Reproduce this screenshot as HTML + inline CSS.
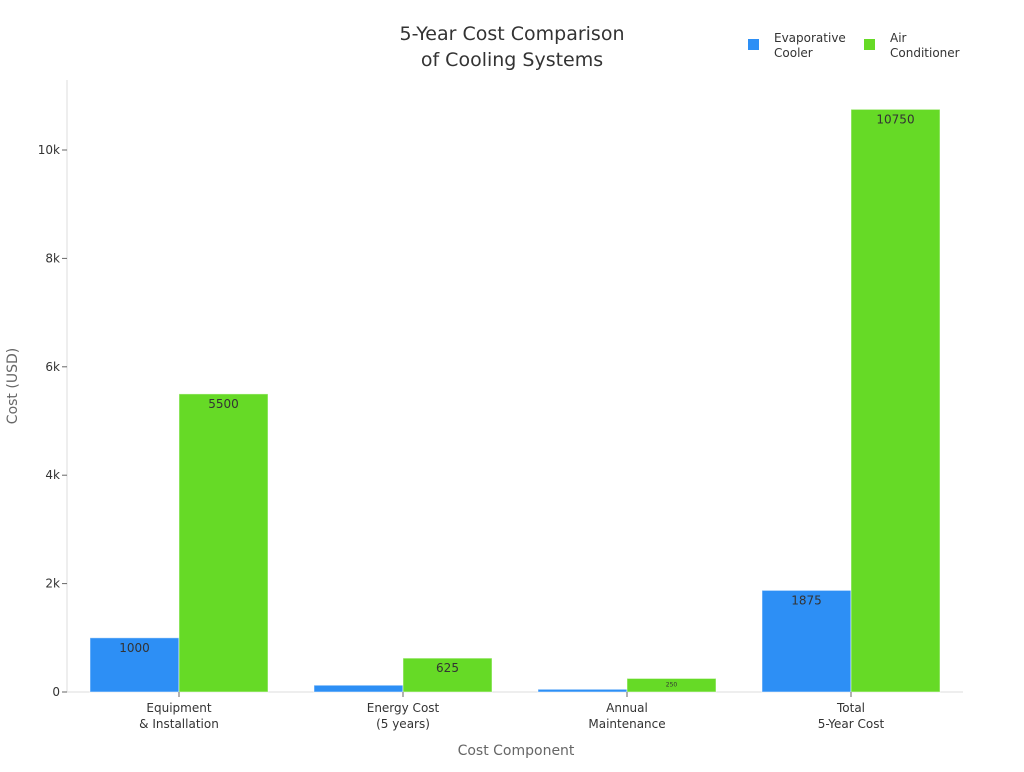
<!DOCTYPE html>
<html><head><meta charset="utf-8"><style>
body{margin:0;background:#fff;font-family:"DejaVu Sans","Liberation Sans",sans-serif;}
svg text{font-family:"DejaVu Sans","Liberation Sans",sans-serif;}
</style></head><body>
<svg id="chart" width="1024" height="768" xmlns="http://www.w3.org/2000/svg">
<text x="512" y="40" text-anchor="middle" font-size="19" fill="#333">5-Year Cost Comparison</text>
<text x="512" y="66" text-anchor="middle" font-size="19" fill="#333">of Cooling Systems</text>
<g>
<rect x="748" y="39" width="11" height="11" fill="#2d8ff5"/>
<text x="774" y="42" font-size="12" fill="#333">Evaporative</text>
<text x="774" y="57" font-size="12" fill="#333">Cooler</text>
<rect x="864" y="39" width="11" height="11" fill="#66da26"/>
<text x="890" y="42" font-size="12" fill="#333">Air</text>
<text x="890" y="57" font-size="12" fill="#333">Conditioner</text>
</g>
<line x1="67" y1="80" x2="67" y2="692" stroke="#ddd"/>
<line x1="67" y1="692" x2="963" y2="692" stroke="#ddd"/>
<g id="yticks"></g><g id="bars"></g><g id="xticks"></g>
<text transform="translate(17,386) rotate(-90)" text-anchor="middle" font-size="14" fill="#666">Cost (USD)</text>
<text x="516" y="755" text-anchor="middle" font-size="14" fill="#666">Cost Component</text>
</svg>
<script>
const categories=[["Equipment","& Installation"],["Energy Cost","(5 years)"],["Annual","Maintenance"],["Total","5-Year Cost"]];
const evaporative=[1000,125,50,1875];
const airConditioner=[5500,625,250,10750];
const yTicks=[0,2000,4000,6000,8000,10000];
const yTickLabels=["0","2k","4k","6k","8k","10k"];
const NS="http://www.w3.org/2000/svg";
const x0=67,x1=963,yBase=692,yTop=150,yMaxVal=10000;
const y=v=>yBase-(v/yMaxVal)*(yBase-yTop);
const band=(x1-x0)/categories.length;
const cx=i=>x0+band*(i+0.5);
function mk(tag,attrs,parent){const e=document.createElementNS(NS,tag);for(const k in attrs)e.setAttribute(k,attrs[k]);parent.appendChild(e);return e;}
const yt=document.getElementById('yticks');
yTicks.forEach((v,i)=>{
 const l=mk('line',{x1:x0-5,x2:x0,y1:y(v),y2:y(v),stroke:'#666'},yt);
 
 
 const t=mk('text',{x:x0-7,y:y(v)+4,'text-anchor':'end','font-size':12,fill:'#333'},yt);
 
 
 t.textContent=yTickLabels[i];
});
const bg=document.getElementById('bars');
const bw=89;
function drawBar(v,x,color,name,i){
 const r=mk('rect',{x:x,y:y(v),width:bw,height:yBase-y(v),fill:color,stroke:'#fff','stroke-opacity':0.5},bg);
 
 
 const h=yBase-y(v);
 const fs=h>20?12:(h>8?6:0);
 if(fs){
  const t=mk('text',{x:x+bw/2,y:y(v)+(fs===12?14:8),'text-anchor':'middle','font-size':fs,fill:'#333'},bg);
  
  
  t.textContent=v;
 }
}
const xt=document.getElementById('xticks');
categories.forEach((c,i)=>{
 drawBar(evaporative[i],cx(i)-bw,'#2d8ff5','evaporative',i);
 drawBar(airConditioner[i],cx(i),'#66da26','air-conditioner',i);
 const l=mk('line',{x1:cx(i),x2:cx(i),y1:yBase,y2:yBase+5,stroke:'#666'},xt);
 
 
 c.forEach((s,j)=>{
  const t=mk('text',{x:cx(i),y:712+j*16,'text-anchor':'middle','font-size':12,fill:'#333'},xt);
  
  
  t.textContent=s;
 });
});
</script>
</body></html>
